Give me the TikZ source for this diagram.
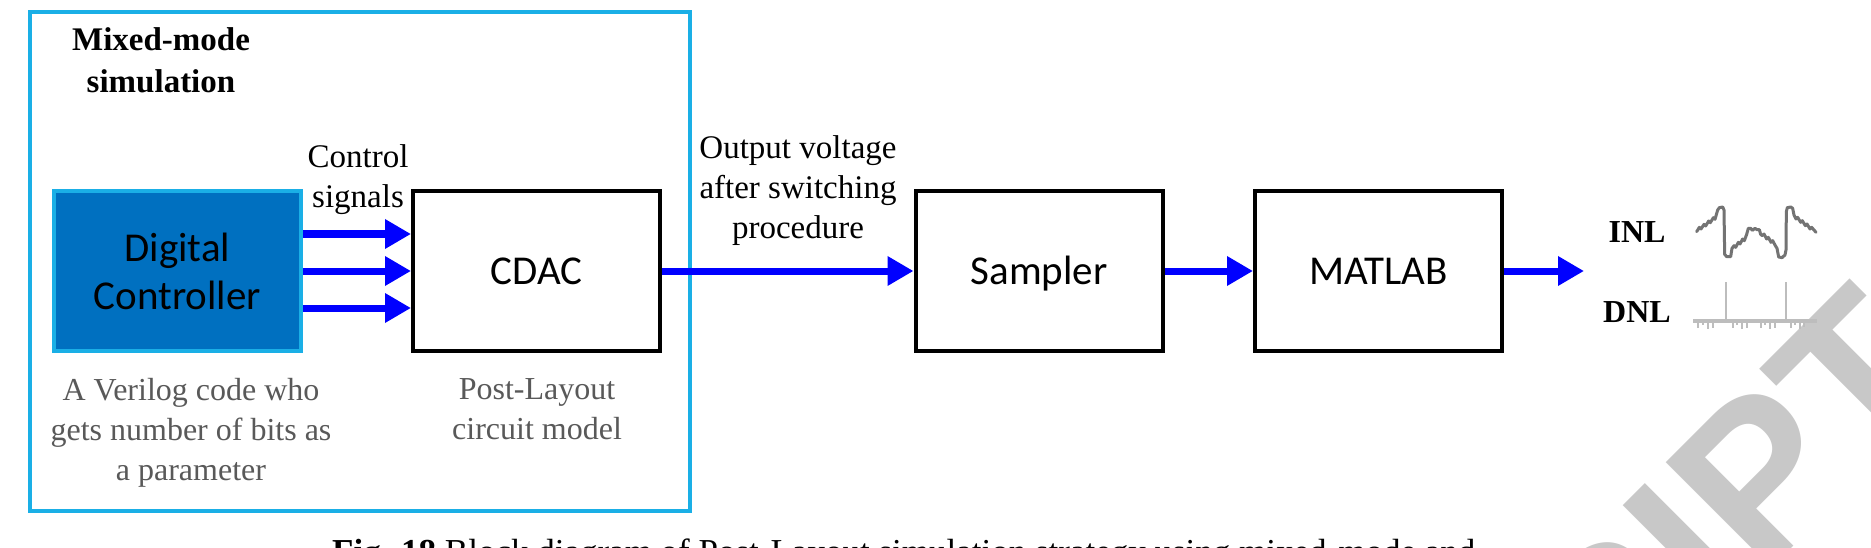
\documentclass[tikz,border=0pt]{standalone}
\usepackage{fontspec}
\setmainfont{Liberation Serif}
\newfontfamily\calfont{Carlito}
\newfontfamily\wmfont{Liberation Sans}
\usetikzlibrary{arrows.meta}
\definecolor{cyanline}{HTML}{1AAFE6}
\definecolor{dcfill}{HTML}{0070C0}
\definecolor{txtgray}{HTML}{595959}
\definecolor{wmgray}{HTML}{C8C8C8}
\definecolor{inlgray}{HTML}{737373}
\definecolor{dnlgray}{HTML}{BDBDBD}
\definecolor{arrblue}{HTML}{0000FF}
\begin{document}
\begin{tikzpicture}[x=1pt,y=-1pt,
  blk/.style={draw=black, line width=4pt, minimum width=247pt, minimum height=160pt, inner sep=0pt,
    font=\calfont\fontsize{41}{48}\selectfont, align=center},
  capc/.style={text height=26pt, text depth=0pt},
  arr/.style={draw=arrblue, line width=7pt, -{Triangle[length=26pt,width=28pt]}},
  lbl/.style={font=\fontsize{33}{40}\selectfont, align=center, inner sep=0pt},
  note/.style={font=\fontsize{32}{40}\selectfont, align=center, inner sep=0pt, text=txtgray},
  nl/.style={font=\bfseries\fontsize{32}{32}\selectfont, text height=21pt, text depth=0pt, inner sep=0pt},
  wave/.style={draw=inlgray, line width=3pt, line join=round, line cap=round},
  tick/.style={draw=dnlgray, line width=2.2pt}
  ]
\useasboundingbox (0,0) rectangle (1871,548);
\fill[white] (0,0) rectangle (1871,548);
\begin{scope}
\clip (0,0) rectangle (1871,548);
\node[anchor=base east, rotate=45, text=wmgray, inner sep=0pt,
  font=\wmfont\bfseries\fontsize{217}{217}\selectfont] (wm) at (1958,382) {ACCEPTED MANUSCRIPT};
\node[anchor=base west, inner sep=0pt, font=\fontsize{35}{40}\selectfont] (cap) at (332,563)
  {\textbf{Fig. 18} Block diagram of Post-Layout simulation strategy using mixed-mode and};
\end{scope}

% outer mixed-mode frame
\node[draw=cyanline, line width=3.5pt, minimum width=660pt, minimum height=499pt, inner sep=0pt] (mixed) at (360,261.5) {};
\node[lbl, font=\bfseries\fontsize{33}{42}\selectfont] (mm) at (161,60) {Mixed-mode\\simulation};

% blocks
\node[blk, draw=cyanline, fill=dcfill] (dc) at (177.5,271) {Digital\\Controller};
\node[blk, capc] (cdac) at (536.5,271) {CDAC};
\node[blk, capc] (samp) at (1039,271) {Sampler};
\node[blk, capc] (mat) at (1378.5,271) {MATLAB};
\coordinate (out) at (1584,271);

% arrows
\draw[arr] ([yshift=37pt]dc.east) -- ([yshift=37pt]cdac.west);
\draw[arr] (dc.east) -- (cdac.west);
\draw[arr] ([yshift=-37pt]dc.east) -- ([yshift=-37pt]cdac.west);
\draw[arr] (cdac.east) -- (samp.west);
\draw[arr] (samp.east) -- (mat.west);
\draw[arr] (mat.east) -- (out);

% labels
\node[lbl] (cs) at (358,180) {Control\\signals};
\node[lbl] (ov) at (798,191) {Output voltage\\after switching\\procedure};
\node[note] (vn) at (191,433) {A Verilog code who\\gets number of bits as\\a parameter};
\node[note] (pl) at (537,409) {Post-Layout\\circuit model};

% INL / DNL
\node[nl] (inl) at (1637,231.5) {INL};
\node[nl] (dnl) at (1637,312) {DNL};

\begin{scope}[shift={(1680,195)}, x=0.3333pt, y=-0.3333pt]
\draw[wave] (50,110) -- (58,97) -- (63,102) -- (72,88) -- (77,93) -- (86,78) -- (91,83) -- (100,68) -- (105,73)
  -- (113,45) -- (118,38) -- (128,36) -- (132,45) -- (134,178) -- (140,185) -- (152,185) -- (156,160)
  -- (162,152) -- (167,157) -- (175,142) -- (180,147) -- (188,132) -- (193,137) -- (200,118) -- (205,100)
  -- (212,100) -- (217,106) -- (225,100) -- (231,104) -- (238,104) -- (242,118) -- (247,122) -- (252,117)
  -- (260,132) -- (265,127) -- (273,142) -- (278,137) -- (286,152) -- (291,160) -- (296,186) -- (306,188)
  -- (315,180) -- (318,165) -- (319,50) -- (322,38) -- (332,36) -- (338,40) -- (342,60) -- (348,72)
  -- (353,67) -- (362,82) -- (367,77) -- (376,92) -- (381,87) -- (390,102) -- (395,97) -- (408,112);
\draw[draw=dnlgray, line width=4pt] (40,378) -- (410,378);
\draw[draw=dnlgray, line width=1.8pt] (138,262) -- (138,378);
\draw[draw=dnlgray, line width=1.8pt] (318,262) -- (318,378);
\foreach \x/\l in {55/22,70/12,85/24,100/20,158/22,172/12,186/24,200/20,242/22,256/12,270/24,284/20,332/22,346/12,360/24,372/18}
  \draw[tick] (\x,378) -- (\x,378+\l);
\end{scope}
\end{tikzpicture}
\end{document}
